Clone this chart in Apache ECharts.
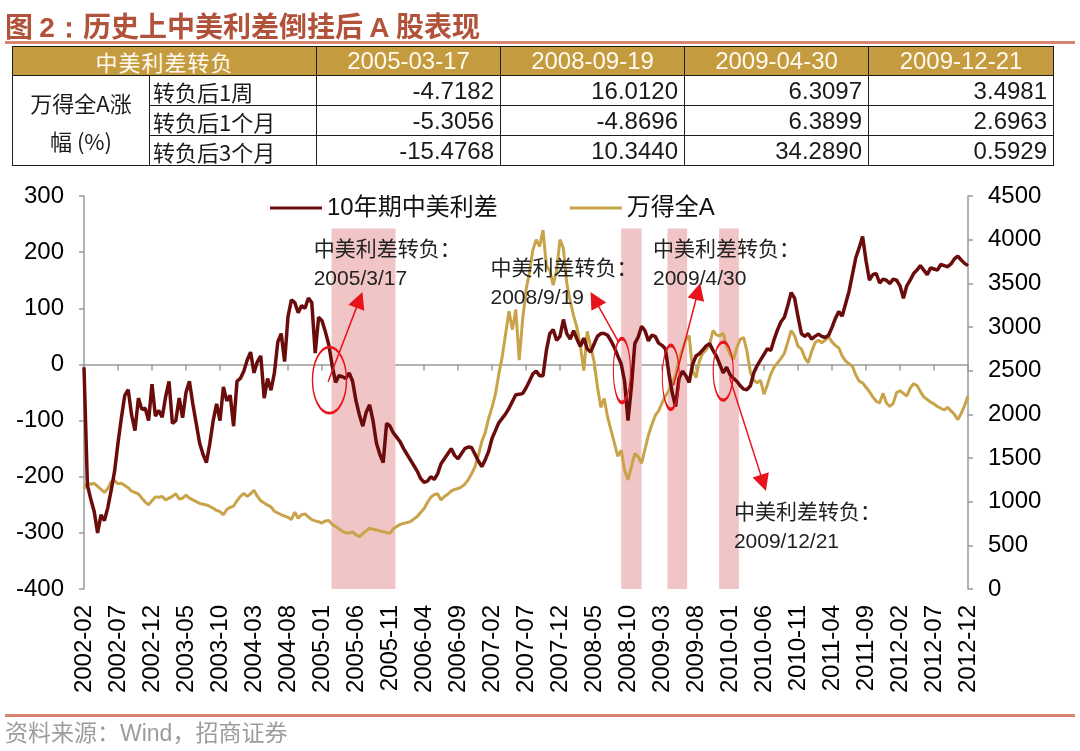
<!DOCTYPE html>
<html>
<head>
<meta charset="utf-8">
<script src="https://cdn.jsdelivr.net/npm/echarts@6.0.0/dist/echarts.min.js"></script>
<style>
  body { margin: 0; background: #fff; }
  #wrap { position: relative; width: 1080px; height: 751px; overflow: hidden; font-family: 'Liberation Sans', 'Noto Sans CJK SC', sans-serif; }
  #chart { position: absolute; left: 0; top: 0; width: 1080px; height: 751px; }
  .title { position: absolute; left: 5px; top: 6px; font-size: 28px; line-height: 38px; color: #b1523a; font-weight: bold; font-family: 'Noto Sans CJK SC', sans-serif; white-space: nowrap; z-index: 2; }
  .title b { font-family: 'Liberation Sans', sans-serif; font-weight: bold; }
  .rule { position: absolute; left: 5px; width: 1070px; height: 3px; background: #d9846f; z-index: 2; }
  table { position: absolute; left: 12px; top: 46px; border-collapse: collapse; table-layout: fixed; width: 1041px; z-index: 2; }
  td, th { border: 1.5px solid #1e1e1e; padding: 0; overflow: hidden; white-space: nowrap; line-height: 28px; }
  th { background: #c49b3e; color: #fffaf0; font-weight: normal; height: 28px; font-size: 24px; }
  th.cn { font-family: 'Noto Sans CJK SC', sans-serif; font-size: 22px; letter-spacing: 1px; }
  td { height: 29px; font-size: 24px; color: #1a1a1a; }
  td.grp { text-align: center; font-family: 'Noto Sans CJK SC', sans-serif; font-size: 22px; line-height: 38px; }
  td.lab { font-family: 'Noto Sans CJK SC', sans-serif; font-size: 22px; padding-left: 3px; }
  td.num { text-align: right; padding-right: 6px; }
  .src { position: absolute; left: 5px; top: 719px; font-size: 23px; line-height: 28px; color: #9c9c9c; z-index: 2; }
</style>
</head>
<body>
<div id="wrap">
  <div id="chart"></div>
  <div class="title">图 <b>2：</b>历史上中美利差倒挂后 <b>A</b> 股表现</div>
  <div class="rule" style="top:41px"></div>
  <table id="tbl"></table>
  <div class="rule" style="top:714px"></div>
  <div class="src">资料来源：Wind，招商证券</div>
</div>
<script>
// 表格数据
var tableDates = ['2005-03-17', '2008-09-19', '2009-04-30', '2009-12-21'];
var tableRows = ['转负后1周', '转负后1个月', '转负后3个月'];
var ret1w = [-4.7182, 16.0120, 6.3097, 3.4981];
var ret1m = [-5.3056, -4.8696, 6.3899, 2.6963];
var ret3m = [-15.4768, 10.3440, 34.2890, 0.5929];

// 曲线数据：2002-02 起，每半个月一个点
var START = '2002-02';
var STEP = 0.5; // 月
var spreadBp = [
  -5, -215, -240, -262, -300, -268, -278, -255, -224, -190,
  -140, -95, -55, -45, -90, -118, -60, -80, -78, -100,
  -35, -92, -82, -94, -58, -30, -105, -100, -60, -95,
  -50, -30, -70, -105, -140, -160, -175, -141, -100, -70,
  -100, -40, -65, -55, -110, -30, -25, -12, 8, 22,
  -15, 5, 15, -60, -25, -46, -15, 40, 55, 5,
  85, 115, 110, 92, 105, 100, 118, 110, 20, 84,
  78, 58, 35, -2, -32, -20, -22, -25, -15, -30,
  -65, -90, -110, -85, -72, -100, -140, -160, -175, -105,
  -110, -122, -130, -138, -150, -160, -170, -180, -190, -203,
  -210, -208, -200, -205, -195, -177, -168, -159, -150, -162,
  -168, -159, -150, -147, -148, -160, -172, -182, -170, -155,
  -132, -118, -104, -96, -88, -78, -66, -54, -53, -52,
  -42, -30, -17, -12, -20, -20, 25, 55, 62, 43,
  50, 80, 55, 45, 60, 45, 32, 47, 28, 22,
  36, 50, 55, 55, 52, 42, 30, 15, 1, -30,
  -100, -40, 37, 49, 68, 60, 42, 52, 50, 38,
  34, 28, -15, -50, -75, -25, -12, -20, -32, 0,
  15, 19, 26, 33, 37, 25, 15, 0, -15, -5,
  -18, -25, -30, -38, -44, -45, -38, -15, -2, 8,
  18, 28, 25, 45, 62, 76, 84, 105, 128, 118,
  85, 55, 50, 55, 45, 50, 54, 50, 48, 52,
  66, 82, 94, 86, 108, 130, 160, 190, 208, 228,
  185, 150, 160, 162, 145, 152, 150, 144, 152, 150,
  140, 118, 140, 150, 162, 168, 176, 168, 160, 172,
  170, 168, 178, 176, 174, 179, 188, 193, 186, 180,
  176
];
var windA = [
  1150, 1210, 1200, 1210, 1175, 1140, 1105, 1150, 1230, 1240,
  1205, 1210, 1185, 1160, 1120, 1105, 1090, 1040, 995, 965,
  1010, 1055, 1050, 1060, 1020, 1040, 1060, 1090, 1030, 1040,
  1075, 1040, 1020, 1000, 980, 970, 962, 945, 925, 900,
  885, 850, 910, 935, 950, 1010, 1060, 1095, 1060, 1090,
  1130, 1060, 1010, 985, 960, 940, 890, 870, 850, 835,
  820, 795, 880, 810, 850, 860, 825, 795, 780, 770,
  755, 780, 785, 740, 715, 690, 660, 645, 640, 655,
  620, 600, 635, 665, 695, 685, 676, 665, 657, 645,
  640, 690, 715, 740, 752, 760, 772, 800, 830, 875,
  920, 990, 1050, 1080, 1090, 1020, 1060, 1085, 1120, 1140,
  1150, 1170, 1200, 1250, 1320, 1400, 1530, 1690, 1790, 1950,
  2080, 2230, 2460, 2660, 2920, 3180, 2970, 3200, 2620, 3080,
  3420, 3620, 3880, 4000, 3920, 4110, 3700, 3650, 3480, 3650,
  4000, 3900, 3500, 3300, 3130, 2990, 2780, 2500, 2950, 2780,
  2610, 2320, 2080, 2180, 1970, 1820, 1670, 1520, 1590, 1360,
  1250, 1400, 1550, 1515, 1440, 1600, 1760, 1880, 1985, 2040,
  2130, 2210, 2270, 2360, 2450, 2630, 2740, 2850, 2900, 2500,
  2420, 2610, 2700, 2740, 2800, 2960, 2910, 2900, 2930, 2780,
  2690, 2630, 2760, 2860, 2880, 2720, 2480, 2390, 2360, 2390,
  2230, 2340, 2460, 2540, 2590, 2640, 2700, 2830, 2960, 2900,
  2780, 2750, 2650, 2590, 2720, 2820, 2850, 2820, 2850, 2890,
  2830, 2790, 2760, 2670, 2610, 2580, 2550, 2450, 2380, 2360,
  2310, 2260, 2200, 2150, 2130, 2240, 2130, 2090, 2125, 2250,
  2270, 2240, 2210, 2300, 2350, 2330, 2260, 2200, 2170, 2140,
  2120, 2090, 2070, 2050, 2080, 2040, 2000, 1940, 2010, 2100,
  2210
];

// 标注
var bandPeriods = [['2005-02-13', '2005-11-25'], ['2008-09-01', '2008-12-01'], ['2009-03-25', '2009-06-22'], ['2009-11-13', '2010-02-10']];
var turnLabels = ['2005/3/17', '2008/9/19', '2009/4/30', '2009/12/21'];
var calloutAt = [['2004-11-22', 178], ['2007-01-22', 143], ['2009-01-19', 178], ['2010-01-16', -290]];
var ringAt = [['2005-02-04', -28], ['2008-09-04', -11], ['2009-04-10', -23], ['2009-12-01', -12]];
var arrowFrom = [['2005-01-28', -31], ['2008-08-19', 40], ['2009-04-22', -37], ['2009-12-29', -23]];
var arrowTo = [['2005-06-16', 115], ['2008-05-04', 116], ['2009-08-10', 130], ['2010-05-28', -211]];

var FONT = "'Liberation Sans', 'Noto Sans CJK SC', sans-serif";
var MAROON = '#6b0c0c';
var GOLD = '#c9a34a';
var RED = '#e8141b';
var AXIS = '#9a9a9a';
var ringSize = [[34, 66], [17, 64], [17, 64], [20, 58]];
var bandTop = 242;
var ELLIPSE = 'path://M50,0C77.6,0,100,22.4,100,50C100,77.6,77.6,100,50,100C22.4,100,0,77.6,0,50C0,22.4,22.4,0,50,0Z';

// 日期 -> 距 2002-02 的月数
function monthOffset(s) {
  var p = s.split('-').map(Number);
  var s0 = START.split('-').map(Number);
  return (p[0] - s0[0]) * 12 + (p[1] - s0[1]) + ((p[2] || 1) - 1) / 30;
}
function monthLabel(t) {
  var s0 = START.split('-').map(Number);
  var n = Math.round(t) + s0[1] - 1;
  var y = s0[0] + Math.floor(n / 12);
  var m = n % 12 + 1;
  return y + '-' + (m < 10 ? '0' + m : m);
}

// 表格
(function () {
  var widths = [137, 167, 184, 184, 184, 185];
  var html = '<colgroup>' + widths.map(function (w) { return '<col style="width:' + w + 'px">'; }).join('') + '</colgroup>';
  html += '<tr><th class="cn" colspan="2">中美利差转负</th>' + tableDates.map(function (d) { return '<th>' + d + '</th>'; }).join('') + '</tr>';
  var rows = [ret1w, ret1m, ret3m];
  rows.forEach(function (r, i) {
    html += '<tr>';
    if (i === 0) html += '<td class="grp" rowspan="3">万得全A涨<br>幅 (%)</td>';
    html += '<td class="lab">' + tableRows[i] + '</td>';
    html += r.map(function (v) { return '<td class="num">' + v.toFixed(4) + '</td>'; }).join('');
    html += '</tr>';
  });
  document.getElementById('tbl').innerHTML = html;
})();

var spreadData = spreadBp.map(function (v, i) { return [i * STEP, v]; });
var indexData = windA.map(function (v, i) { return [i * STEP, v]; });

var markPoints = [];
ringAt.forEach(function (r, i) {
  markPoints.push({
    coord: [monthOffset(r[0]), r[1]],
    symbol: ELLIPSE,
    symbolSize: ringSize[i],
    itemStyle: { color: 'rgba(0,0,0,0)', borderColor: RED, borderWidth: 2 },
    label: { show: false }
  });
});
calloutAt.forEach(function (c, i) {
  markPoints.push({
    coord: [monthOffset(c[0]), c[1]],
    symbol: 'rect',
    symbolSize: 1,
    itemStyle: { color: 'rgba(0,0,0,0)' },
    label: {
      show: true, position: 'right', distance: 0,
      formatter: '中美利差转负：\n' + turnLabels[i],
      fontSize: 21, lineHeight: 29, color: '#222', fontFamily: FONT
    }
  });
});

var myChart = echarts.init(document.getElementById('chart'));

var axisLineStyle = { color: AXIS, width: 1.5 };

var option = {
  animation: false,
  textStyle: { fontFamily: FONT },
  grid: { left: 84, right: 112, top: 196, bottom: 162, outerBoundsMode: 'none' },
  legend: {
    left: 270, top: 194, padding: 0,
    itemGap: 72, itemWidth: 52, itemHeight: 3, icon: 'rect',
    selectedMode: false,
    data: ['10年期中美利差', '万得全A'],
    textStyle: { fontSize: 24, color: '#111', fontFamily: FONT, lineHeight: 28 }
  },
  xAxis: [
    {
      // 底部日期标签
      type: 'value', min: 0, max: 130, interval: 5, position: 'bottom',
      axisLine: { show: false, onZero: false },
      axisTick: { show: false },
      splitLine: { show: false },
      axisLabel: { rotate: 90, margin: 16, fontSize: 24, color: '#000', fontFamily: FONT, formatter: monthLabel, showMinLabel: true, showMaxLabel: true }
    },
    {
      // 0 轴线
      type: 'value', min: 0, max: 130, interval: 5, position: 'top',
      axisLine: { show: true, onZero: true, onZeroAxisIndex: 0, lineStyle: axisLineStyle },
      axisTick: { show: true, inside: true, length: 6, lineStyle: axisLineStyle },
      axisLabel: { show: false },
      splitLine: { show: false }
    }
  ],
  yAxis: [
    {
      type: 'value', min: -400, max: 300, interval: 100, position: 'left',
      axisLine: { show: true, onZero: false, lineStyle: axisLineStyle },
      axisTick: { show: true, length: 5, lineStyle: axisLineStyle },
      splitLine: { show: false },
      axisLabel: { fontSize: 24, color: '#000', margin: 20, fontFamily: FONT }
    },
    {
      type: 'value', min: 0, max: 4500, interval: 500, position: 'right',
      axisLine: { show: true, onZero: false, lineStyle: axisLineStyle },
      axisTick: { show: true, length: 5, lineStyle: axisLineStyle },
      splitLine: { show: false },
      axisLabel: { fontSize: 24, color: '#000', margin: 20, fontFamily: FONT, formatter: function (v) { return String(v); } }
    }
  ],
  series: [
    {
      name: '万得全A',
      type: 'line',
      xAxisIndex: 0, yAxisIndex: 1,
      data: indexData,
      symbol: 'none',
      lineStyle: { color: GOLD, width: 3 },
      itemStyle: { color: GOLD },
      z: 2
    },
    {
      name: '10年期中美利差',
      type: 'line',
      xAxisIndex: 0, yAxisIndex: 0,
      data: spreadData,
      symbol: 'none',
      lineStyle: { color: MAROON, width: 3.5 },
      itemStyle: { color: MAROON },
      z: 3,
      markArea: {
        silent: true,
        itemStyle: { color: '#f1c4c5' },
        data: bandPeriods.map(function (b) {
          return [{ coord: [monthOffset(b[0]), bandTop] }, { coord: [monthOffset(b[1]), -400] }];
        })
      },
      markPoint: { silent: true, data: markPoints },
      markLine: {
        silent: true,
        symbol: ['none', 'triangle'],
        symbolSize: 17,
        lineStyle: { color: RED, width: 1.5, type: 'solid' },
        itemStyle: { color: RED },
        label: { show: false },
        data: arrowFrom.map(function (f, i) {
          return [{ coord: [monthOffset(f[0]), f[1]] }, { coord: [monthOffset(arrowTo[i][0]), arrowTo[i][1]] }];
        })
      }
    }
  ]
};

myChart.setOption(option);
</script>
</body>
</html>
